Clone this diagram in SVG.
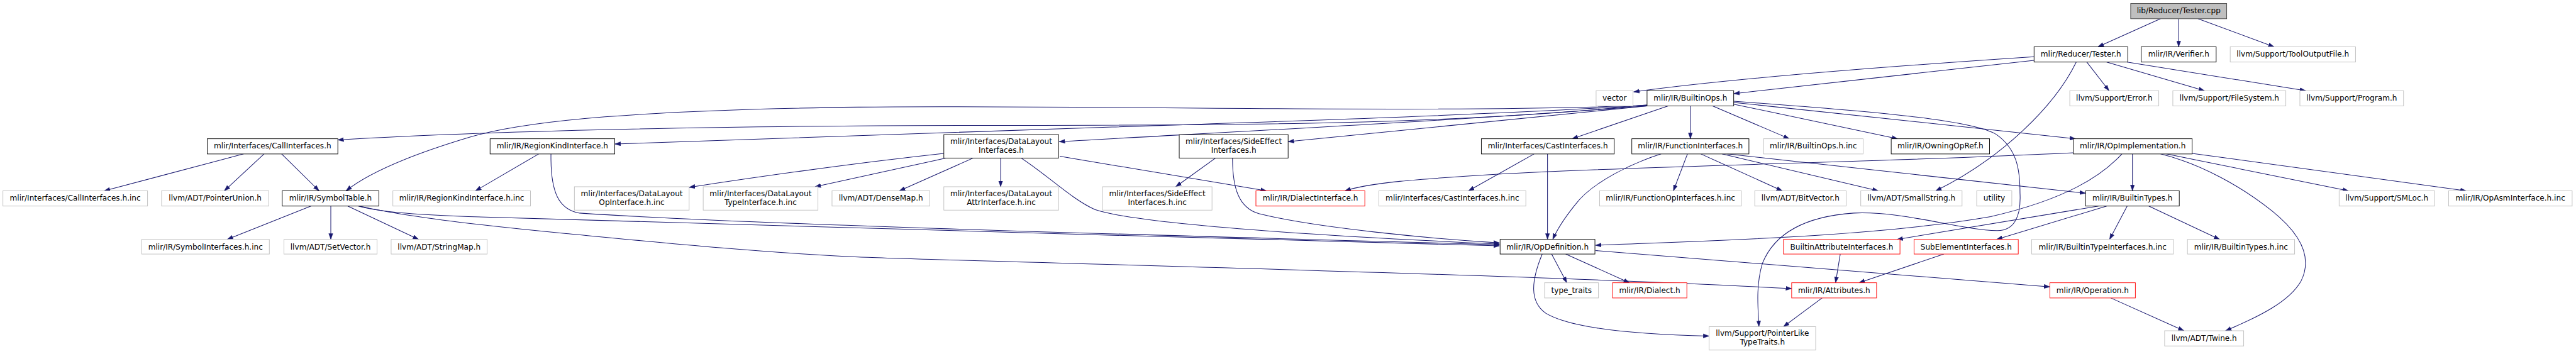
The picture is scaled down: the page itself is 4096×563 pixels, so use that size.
<svg xmlns="http://www.w3.org/2000/svg" width="4096" height="563" viewBox="0 0 4096 563">
<style>
rect{stroke-width:1}
.n{fill:#fff;stroke:#000}
.g{fill:#fff;stroke:#bfbfbf}
.r{fill:#fff;stroke:#ff0000}
.root{fill:#bfbfbf;stroke:#404040}
text{font-family:"DejaVu Sans","Liberation Sans",sans-serif;font-size:13px;text-anchor:middle;fill:#000}
.e{fill:none;stroke:#191970;stroke-width:1.1;marker-end:url(#a)}
</style>
<defs>
<marker id="a" markerUnits="userSpaceOnUse" markerWidth="10" markerHeight="8" viewBox="0 0 10 8" refX="10" refY="4" orient="auto"><path d="M0,0.5 L10,4 L0,7.5 z" fill="#191970" stroke="#191970" stroke-width="0.5"/></marker>
</defs>
<rect width="4096" height="563" fill="#fff"/>
<g transform="scale(0.931)">
<g id="edges">
<path class="e" d="M3690,32 L3583,80"/>
<path class="e" d="M3721,32 L3721,80"/>
<path class="e" d="M3754,32 L3884,80"/>
<path class="e" d="M3474,97 C3200,115 2950,135 2790,157"/>
<path class="e" d="M3474,103 L2961,160"/>
<path class="e" d="M3564,106 L3602,155"/>
<path class="e" d="M3598,106 L3765,155"/>
<path class="e" d="M3633,106 L3938,155"/>
<path class="e" d="M3546,106 C3510,180 3420,270 3306,326"/>
<path class="e" d="M2813,179 C2400,222 1900,212 1466,215 C1100,218 800,226 577,239"/>
<path class="e" d="M2813,180 C2400,195 1800,178 1466,183 C1100,188 900,205 800,235 C700,265 630,295 591,326"/>
<path class="e" d="M2813,180 C2500,198 2200,207 1900,217 S1300,238 1050,246"/>
<path class="e" d="M2813,181 C2500,205 2200,220 1809,242"/>
<path class="e" d="M2813,181 L2200,242"/>
<path class="e" d="M2849,181 L2685,237"/>
<path class="e" d="M2887,181 L2887,237"/>
<path class="e" d="M2925,181 L3056,237"/>
<path class="e" d="M2961,178 L3241,237"/>
<path class="e" d="M2961,175 L3545,237"/>
<path class="e" d="M2961,173 C3200,190 3370,205 3410,230 C3445,255 3450,290 3450,330 C3452,370 3440,395 3410,394 C3350,393 3250,360 3166,364 C3080,370 3030,400 3010,450 C2998,490 3003,530 3004,558"/>
<path class="e" d="M2882,263 L2858,326"/>
<path class="e" d="M2837,263 C2790,278 2720,310 2690,350 C2670,375 2658,395 2652,409"/>
<path class="e" d="M2905,263 L3044,326"/>
<path class="e" d="M2941,263 L3208,326"/>
<path class="e" d="M2950,263 L3562,330"/>
<path class="e" d="M2620,263 L2508,326"/>
<path class="e" d="M2643,263 L2643,409"/>
<path class="e" d="M3541,261 C3200,278 2800,283 2550,298 C2420,306 2340,312 2297,326"/>
<path class="e" d="M3624,263 C3590,300 3530,340 3400,370 C3200,405 2900,412 2725,419"/>
<path class="e" d="M3642,263 L3642,326"/>
<path class="e" d="M3700,263 L4011,326"/>
<path class="e" d="M3744,262 L4212,326"/>
<path class="e" d="M3690,263 C3760,280 3830,320 3880,360 C3930,400 3950,440 3930,480 C3910,515 3860,540 3801,565"/>
<path class="e" d="M3605,509 L3730,565"/>
<path class="e" d="M3584,352 L3240,409"/>
<path class="e" d="M3598,352 L3410,409"/>
<path class="e" d="M3633,352 L3603,409"/>
<path class="e" d="M3670,352 L3791,409"/>
<path class="e" d="M3143,434 L3135,483"/>
<path class="e" d="M3320,434 L3175,483"/>
<path class="e" d="M3112,509 L3046,558"/>
<path class="e" d="M2650,434 L2676,483"/>
<path class="e" d="M2674,434 L2783,483"/>
<path class="e" d="M2634,434 C2615,480 2612,515 2640,535 C2690,565 2820,572 2919,574"/>
<path class="e" d="M2725,428 L3501,490"/>
<path class="e" d="M531,352 L388,409"/>
<path class="e" d="M565,352 L565,409"/>
<path class="e" d="M594,352 L715,409"/>
<path class="e" d="M612,352 C650,362 700,366 800,370 C1200,382 2000,405 2561,420"/>
<path class="e" d="M614,352 C700,372 850,388 967,399 S1300,432 1466,439 S2600,468 3060,493"/>
<path class="e" d="M416,263 L178,326"/>
<path class="e" d="M451,263 L383,326"/>
<path class="e" d="M481,263 L545,326"/>
<path class="e" d="M920,263 L812,326"/>
<path class="e" d="M941,263 C940,330 955,358 990,364 C1300,385 2100,405 2561,418"/>
<path class="e" d="M1612,262 Q1420,283 1177,320"/>
<path class="e" d="M1616,270 L1392,319"/>
<path class="e" d="M1662,270 L1536,326"/>
<path class="e" d="M1709,270 L1709,319"/>
<path class="e" d="M1744,270 C1790,300 1830,340 1870,358 C1950,385 2300,405 2561,417"/>
<path class="e" d="M1810,267 L2163,326"/>
<path class="e" d="M2076,270 L2008,319"/>
<path class="e" d="M2105,270 C2105,320 2115,355 2150,365 C2250,390 2450,408 2561,415"/>
</g>
<g id="n1"><rect class="root" x="3639" y="6" width="164" height="26"/><text x="3721" y="23">lib/Reducer/Tester.cpp</text></g>
<g id="n2"><rect class="n" x="3474" y="80" width="160" height="26"/><text x="3554" y="97">mlir/Reducer/Tester.h</text></g>
<g id="n3"><rect class="n" x="3657" y="80" width="128" height="26"/><text x="3721" y="97">mlir/IR/Verifier.h</text></g>
<g id="n4"><rect class="g" x="3809" y="80" width="214" height="26"/><text x="3916" y="97">llvm/Support/ToolOutputFile.h</text></g>
<g id="n5"><rect class="g" x="2726" y="155" width="63" height="26"/><text x="2757.5" y="172">vector</text></g>
<g id="n6"><rect class="n" x="2813" y="155" width="148" height="26"/><text x="2887" y="172">mlir/IR/BuiltinOps.h</text></g>
<g id="n7"><rect class="g" x="3535" y="155" width="152" height="26"/><text x="3611" y="172">llvm/Support/Error.h</text></g>
<g id="n8"><rect class="g" x="3711" y="155" width="193" height="26"/><text x="3807.5" y="172">llvm/Support/FileSystem.h</text></g>
<g id="n9"><rect class="g" x="3928" y="155" width="177" height="26"/><text x="4016.5" y="172">llvm/Support/Program.h</text></g>
<g id="n10"><rect class="n" x="354" y="237" width="223" height="26"/><text x="465.5" y="254">mlir/Interfaces/CallInterfaces.h</text></g>
<g id="n11"><rect class="n" x="837" y="237" width="213" height="26"/><text x="943.5" y="254">mlir/IR/RegionKindInterface.h</text></g>
<g id="n12"><rect class="n" x="1612" y="230" width="196" height="40"/><text x="1710" y="246">mlir/Interfaces/DataLayout</text><text x="1710" y="261">Interfaces.h</text></g>
<g id="n13"><rect class="n" x="2014" y="230" width="186" height="40"/><text x="2107" y="246">mlir/Interfaces/SideEffect</text><text x="2107" y="261">Interfaces.h</text></g>
<g id="n14"><rect class="n" x="2530" y="237" width="227" height="26"/><text x="2643.5" y="254">mlir/Interfaces/CastInterfaces.h</text></g>
<g id="n15"><rect class="n" x="2787" y="237" width="200" height="26"/><text x="2887" y="254">mlir/IR/FunctionInterfaces.h</text></g>
<g id="n16"><rect class="g" x="3012" y="237" width="170" height="26"/><text x="3097" y="254">mlir/IR/BuiltinOps.h.inc</text></g>
<g id="n17"><rect class="n" x="3230" y="237" width="168" height="26"/><text x="3314" y="254">mlir/IR/OwningOpRef.h</text></g>
<g id="n18"><rect class="n" x="3541" y="237" width="203" height="26"/><text x="3642.5" y="254">mlir/IR/OpImplementation.h</text></g>
<g id="n19"><rect class="g" x="5" y="326" width="247" height="26"/><text x="128.5" y="343">mlir/Interfaces/CallInterfaces.h.inc</text></g>
<g id="n20"><rect class="g" x="276" y="326" width="183" height="26"/><text x="367.5" y="343">llvm/ADT/PointerUnion.h</text></g>
<g id="n21"><rect class="n" x="482" y="326" width="165" height="26"/><text x="564.5" y="343">mlir/IR/SymbolTable.h</text></g>
<g id="n22"><rect class="g" x="671" y="326" width="235" height="26"/><text x="788.5" y="343">mlir/IR/RegionKindInterface.h.inc</text></g>
<g id="n23"><rect class="g" x="981" y="319" width="196" height="40"/><text x="1079" y="335">mlir/Interfaces/DataLayout</text><text x="1079" y="350">OpInterface.h.inc</text></g>
<g id="n24"><rect class="g" x="1201" y="319" width="196" height="40"/><text x="1299" y="335">mlir/Interfaces/DataLayout</text><text x="1299" y="350">TypeInterface.h.inc</text></g>
<g id="n25"><rect class="g" x="1421" y="326" width="167" height="26"/><text x="1504.5" y="343">llvm/ADT/DenseMap.h</text></g>
<g id="n26"><rect class="g" x="1612" y="319" width="196" height="40"/><text x="1710" y="335">mlir/Interfaces/DataLayout</text><text x="1710" y="350">AttrInterface.h.inc</text></g>
<g id="n27"><rect class="g" x="1883" y="319" width="187" height="40"/><text x="1976.5" y="335">mlir/Interfaces/SideEffect</text><text x="1976.5" y="350">Interfaces.h.inc</text></g>
<g id="n28"><rect class="r" x="2145" y="326" width="186" height="26"/><text x="2238" y="343">mlir/IR/DialectInterface.h</text></g>
<g id="n29"><rect class="g" x="2355" y="326" width="251" height="26"/><text x="2480.5" y="343">mlir/Interfaces/CastInterfaces.h.inc</text></g>
<g id="n30"><rect class="g" x="2732" y="326" width="242" height="26"/><text x="2853" y="343">mlir/IR/FunctionOpInterfaces.h.inc</text></g>
<g id="n31"><rect class="g" x="2997" y="326" width="156" height="26"/><text x="3075" y="343">llvm/ADT/BitVector.h</text></g>
<g id="n32"><rect class="g" x="3178" y="326" width="173" height="26"/><text x="3264.5" y="343">llvm/ADT/SmallString.h</text></g>
<g id="n33"><rect class="g" x="3376" y="326" width="60" height="26"/><text x="3406" y="343">utility</text></g>
<g id="n34"><rect class="n" x="3562" y="326" width="160" height="26"/><text x="3642" y="343">mlir/IR/BuiltinTypes.h</text></g>
<g id="n35"><rect class="g" x="3995" y="326" width="163" height="26"/><text x="4076.5" y="343">llvm/Support/SMLoc.h</text></g>
<g id="n36"><rect class="g" x="4182" y="326" width="211" height="26"/><text x="4287.5" y="343">mlir/IR/OpAsmInterface.h.inc</text></g>
<g id="n37"><rect class="g" x="242" y="409" width="218" height="25"/><text x="351" y="426">mlir/IR/SymbolInterfaces.h.inc</text></g>
<g id="n38"><rect class="g" x="485" y="409" width="159" height="25"/><text x="564.5" y="426">llvm/ADT/SetVector.h</text></g>
<g id="n39"><rect class="g" x="668" y="409" width="164" height="25"/><text x="750" y="426">llvm/ADT/StringMap.h</text></g>
<g id="n40"><rect class="n" x="2562" y="409" width="162" height="25"/><text x="2643" y="426">mlir/IR/OpDefinition.h</text></g>
<g id="n41"><rect class="r" x="3046" y="409" width="199" height="25"/><text x="3145.5" y="426">BuiltinAttributeInterfaces.h</text></g>
<g id="n42"><rect class="r" x="3269" y="409" width="178" height="25"/><text x="3358" y="426">SubElementInterfaces.h</text></g>
<g id="n43"><rect class="g" x="3470" y="409" width="242" height="25"/><text x="3591" y="426">mlir/IR/BuiltinTypeInterfaces.h.inc</text></g>
<g id="n44"><rect class="g" x="3736" y="409" width="183" height="25"/><text x="3827.5" y="426">mlir/IR/BuiltinTypes.h.inc</text></g>
<g id="n45"><rect class="g" x="2638" y="483" width="92" height="26"/><text x="2684" y="500">type_traits</text></g>
<g id="n46"><rect class="r" x="2754" y="483" width="127" height="26"/><text x="2817.5" y="500">mlir/IR/Dialect.h</text></g>
<g id="n47"><rect class="r" x="3060" y="483" width="145" height="26"/><text x="3132.5" y="500">mlir/IR/Attributes.h</text></g>
<g id="n48"><rect class="r" x="3501" y="483" width="146" height="26"/><text x="3574" y="500">mlir/IR/Operation.h</text></g>
<g id="n49"><rect class="g" x="2919" y="558" width="182" height="40"/><text x="3010" y="574">llvm/Support/PointerLike</text><text x="3010" y="589">TypeTraits.h</text></g>
<g id="n50"><rect class="g" x="3697" y="565" width="135" height="26"/><text x="3764.5" y="582">llvm/ADT/Twine.h</text></g>
</g>
</svg>
